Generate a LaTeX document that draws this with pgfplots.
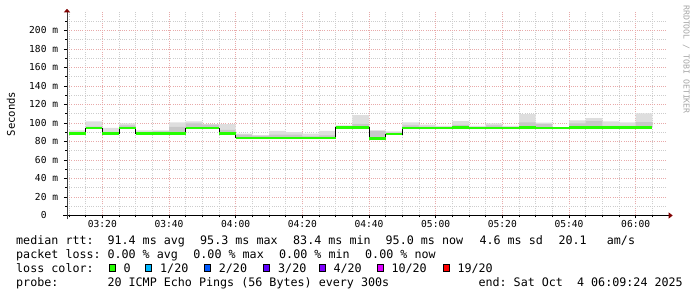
\documentclass[border=0pt]{standalone}
\usepackage{fontspec}
\setmonofont{DejaVu Sans Mono}
\usepackage{pgfplots}
\pgfplotsset{compat=1.18}
\usepackage{pgfplotstable}
\usepgfplotslibrary{fillbetween}
\usetikzlibrary{arrows.meta}

\definecolor{mgrid}{RGB}{232,170,170}
\definecolor{ngrid}{RGB}{205,205,205}
\definecolor{smokeA}{RGB}{222,222,222}
\definecolor{smokeB}{RGB}{200,200,200}
\definecolor{loss0}{RGB}{38,255,0}
\definecolor{loss1}{RGB}{0,184,255}
\definecolor{loss2}{RGB}{0,89,255}
\definecolor{loss3}{RGB}{94,0,255}
\definecolor{loss4}{RGB}{126,0,255}
\definecolor{loss10}{RGB}{221,0,255}
\definecolor{loss19}{RGB}{255,0,0}
\definecolor{arrowred}{RGB}{128,0,0}

\newcommand\legfont{\ttfamily\fontsize{11.7}{14}\selectfont}
\newcommand\axfont{\ttfamily\fontsize{9.6}{11}\selectfont}

% minutes after 03:00, median, upper edge of dark smoke, upper edge of light smoke (ms)
\pgfplotstableread{
x   med   mid    hi
10  88.6  90.0   92.1
15  94.3  96.0   101.8
20  88.6  90.5   94.6
25  94.3  97.5   99.6
30  88.6  90.0   92.0
35  88.6  91.0   92.0
40  88.6  95.7   100.7
45  94.3  99.6   101.8
50  94.3  98.2   98.9
55  88.6  92.5   98.9
60  84.0  87.5   88.6
65  84.0  86.0   87.0
70  84.0  87.5   91.4
75  84.0  87.5   90.0
80  84.0  85.5   88.6
85  84.0  86.5   91.4
90  95.2  96.5   97.5
95  95.0  99.0   108.6
100 83.4  91.4   92.1
105 88.0  89.5   91.0
110 94.3  97.5   100.7
115 94.3  96.0   98.2
120 94.3  95.5   96.8
125 95.0  98.0   102.1
130 94.3  95.5   96.8
135 94.3  97.5   99.6
140 94.3  95.5   96.8
145 95.2  100.7  109.6
150 94.5  98.9   100.4
155 94.3  94.8   95.0
160 95.2  99.6   102.8
165 95.2  102.0  105.4
170 95.2  97.0   101.8
175 95.2  97.0   100.7
180 95.0  101.0  110.4
185 95.0  101.0  110.4
}\rtt

\begin{document}
\begin{tikzpicture}[x=1pt,y=1pt]
\begin{axis}[
  at={(67pt,81.5pt)}, anchor=south west,
  scale only axis, width=600pt, height=203.5pt,
  xmin=9.4, xmax=189.4, ymin=0, ymax=220,
  axis x line*=bottom, axis y line*=left,
  x axis line style={black, line width=0.9pt, shorten <=-4pt, shorten >=-5.7pt,
     -{Triangle[length=4pt,width=6pt,color=arrowred]}},
  y axis line style={black!75, line width=0.9pt, shorten <=-4pt, shorten >=-3.2pt,
     -{Triangle[length=3.5pt,width=6pt,color=arrowred]}},
  xtick={20,40,...,180},
  xticklabels={03:20,03:40,04:00,04:20,04:40,05:00,05:20,05:40,06:00},
  minor xtick={10,15,...,185},
  ytick={0,20,...,200},
  yticklabels={0\phantom{\ m},20 m,40 m,60 m,80 m,100 m,120 m,140 m,160 m,180 m,200 m},
  minor ytick={10,30,...,210},
  grid=both,
  major grid style={mgrid, line width=0.8pt, dash pattern=on 1pt off 1.2pt},
  minor grid style={ngrid, line width=0.8pt, dash pattern=on 1pt off 1.2pt},
  tick align=outside,
  major tick length=3pt, minor tick length=2pt,
  tick style={black, line width=0.6pt},
  xticklabel style={font=\axfont, anchor=base, yshift=-8.8pt, inner sep=0pt},
  yticklabel style={font=\axfont, anchor=east, inner sep=0pt, xshift=-5.7pt},
  clip=false,
]
\addplot[const plot mark left, draw=none, name path=lo, forget plot] table[x=x,y=med] {\rtt};
\addplot[const plot mark left, draw=none, name path=hi, forget plot] table[x=x,y=hi] {\rtt};
\addplot[const plot mark left, draw=none, name path=mid, forget plot] table[x=x,y=mid] {\rtt};
\addplot[smokeA, draw=none] fill between[of=hi and lo];
\addplot[smokeB, draw=none] fill between[of=mid and lo];
\addplot[const plot mark left, black, line width=0.9pt] table[x=x,y=med] {\rtt};
\addplot[jump mark left, loss0, line width=2.4pt] table[x=x,y=med] {\rtt};
\end{axis}

% axis title and watermark
\node[rotate=90, font=\ttfamily\fontsize{10.6}{12}\selectfont, inner sep=0pt] at (11,183) {Seconds};
\node[rotate=-90, anchor=base west, inner sep=0pt, text=black!35, font=\ttfamily\fontsize{8.2}{9}\selectfont] at (683.5,292) {RRDTOOL / TOBI OETIKER};

% legend lines
\begin{scope}[every node/.style={anchor=base west, inner sep=0pt, font=\legfont}]
\node at (16,52.3) {median rtt:};
\node at (107.3,52.3) {91.4 ms avg};
\node at (200,52.3) {95.3 ms max};
\node at (293,52.3) {83.4 ms min};
\node at (385.5,52.3) {95.0 ms now};
\node at (479.3,52.3) {4.6 ms sd};
\node at (558.3,52.3) {20.1};
\node at (606.7,52.3) {am/s};

\node at (16,38.3) {packet loss:};
\node at (107.3,38.3) {0.00 \% avg};
\node at (193.2,38.3) {0.00 \% max};
\node at (279,38.3) {0.00 \% min};
\node at (365,38.3) {0.00 \% now};

\node at (16,24.3) {loss color:};
\draw[fill=loss0, line width=0.8pt] (109.7,25.2) rectangle (115.8,32.2);
\node at (123.3,24.3) {0};
\draw[fill=loss1, line width=0.8pt] (145.7,25.2) rectangle (151.8,32.2);
\node at (160,24.3) {1/20};
\draw[fill=loss2, line width=0.8pt] (204.3,25.2) rectangle (210.4,32.2);
\node at (218.7,24.3) {2/20};
\draw[fill=loss3, line width=0.8pt] (263.6,25.2) rectangle (269.7,32.2);
\node at (278,24.3) {3/20};
\draw[fill=loss4, line width=0.8pt] (319.6,25.2) rectangle (325.7,32.2);
\node at (333.3,24.3) {4/20};
\draw[fill=loss10, line width=0.8pt] (377.6,25.2) rectangle (383.7,32.2);
\node at (391.3,24.3) {10/20};
\draw[fill=loss19, line width=0.8pt] (443,25.2) rectangle (449.1,32.2);
\node at (457.3,24.3) {19/20};

\node at (16,10.5) {probe:};
\node at (107.3,10.5) {20 ICMP Echo Pings (56 Bytes) every 300s};
\node at (478.3,10.5) {end: Sat Oct\ \ 4 06:09:24 2025};
\end{scope}
\pgfresetboundingbox
\path[use as bounding box] (0,0) rectangle (697,297);
\end{tikzpicture}
\end{document}
